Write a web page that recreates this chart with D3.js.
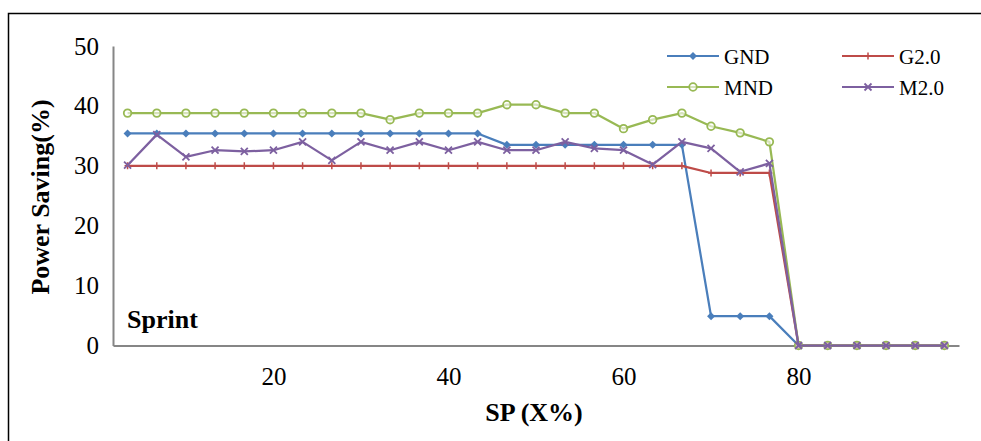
<!DOCTYPE html>
<html>
<head>
<meta charset="utf-8">
<script src="https://cdn.jsdelivr.net/npm/d3@7"></script>
<style>
  body { margin: 0; background: #fff; }
  svg { display: block; }
</style>
</head>
<body>
<svg width="981" height="441"></svg>
<script>
// SP (X%) values along the x axis
const spValues = [3.33, 6.67, 10, 13.33, 16.67, 20, 23.33, 26.67, 30, 33.33,
    36.67, 40, 43.33, 46.67, 50, 53.33, 56.67, 60, 63.33, 66.67,
    70, 73.33, 76.67, 80, 83.33, 86.67, 90, 93.33, 96.67];

// power saving (%) per series
const gnd = [35.4, 35.4, 35.4, 35.4, 35.4, 35.4, 35.4, 35.4, 35.4, 35.4,
    35.4, 35.4, 35.4, 33.5, 33.5, 33.5, 33.5, 33.5, 33.5, 33.5,
    4.9, 4.9, 4.9, 0, 0, 0, 0, 0, 0];
const g20 = [30, 30, 30, 30, 30, 30, 30, 30, 30, 30,
    30, 30, 30, 30, 30, 30, 30, 30, 30, 30,
    28.8, 28.8, 28.8, 0, 0, 0, 0, 0, 0];
const mnd = [38.8, 38.8, 38.8, 38.8, 38.8, 38.8, 38.8, 38.8, 38.8, 37.7,
    38.8, 38.8, 38.8, 40.2, 40.2, 38.8, 38.8, 36.2, 37.7, 38.8,
    36.6, 35.5, 34.0, 0, 0, 0, 0, 0, 0];
const m20 = [30.1, 35.2, 31.5, 32.6, 32.4, 32.6, 34.0, 30.9, 34.0, 32.6,
    34.0, 32.6, 34.0, 32.6, 32.6, 34.0, 32.9, 32.6, 30.2, 34.0,
    32.9, 29.0, 30.4, 0, 0, 0, 0, 0, 0];

const seriesNames = ["GND", "G2.0", "MND", "M2.0"];
const seriesColors = ["#4a7ebb", "#be4b48", "#98b954", "#7d60a0"];
const seriesMarkers = ["diamond", "plus", "circle", "cross"];
const xTicks = [20, 40, 60, 80];
const yTicks = [0, 10, 20, 30, 40, 50];

const serif = "'Liberation Serif', 'Times New Roman', serif";

const svg = d3.select("svg");

// outer frame
svg.append("rect")
    .attr("x", 8.5).attr("y", 13.5)
    .attr("width", 990).attr("height", 450)
    .attr("fill", "none")
    .attr("stroke", "#000")
    .attr("stroke-width", 1.5);

const x = d3.scaleLinear().domain([5 / 3, 295 / 3]).range([113, 959]);
const y = d3.scaleLinear().domain([0, 50]).range([345.5, 46]);

// axes
const xAxis = svg.append("g")
    .attr("transform", `translate(0,${y(0)})`)
    .call(d3.axisBottom(x).tickValues(xTicks).tickSize(0).tickPadding(22).tickFormat(d3.format("d")));
const yAxis = svg.append("g")
    .attr("transform", `translate(${x.range()[0]},0)`)
    .call(d3.axisLeft(y).tickValues(yTicks).tickSize(0).tickPadding(14));

[xAxis, yAxis].forEach(a => {
    a.select(".domain").attr("stroke", "#868686").attr("stroke-width", 2);
    a.selectAll("text")
        .style("font-family", serif)
        .style("font-size", "25px")
        .attr("fill", "#000");
});

// axis titles
svg.append("text")
    .attr("transform", "translate(49,197) rotate(-90)")
    .attr("text-anchor", "middle")
    .style("font-family", serif).style("font-size", "26px").style("font-weight", "bold")
    .text("Power Saving(%)");
svg.append("text")
    .attr("x", 534).attr("y", 421)
    .attr("text-anchor", "middle")
    .style("font-family", serif).style("font-size", "26px").style("font-weight", "bold")
    .text("SP (X%)");
svg.append("text")
    .attr("x", 127).attr("y", 328)
    .style("font-family", serif).style("font-size", "26px").style("font-weight", "bold")
    .text("Sprint");

function drawMarker(g, type, color, cx, cy) {
    if (type === "diamond") {
        g.append("path")
            .attr("d", `M${cx},${cy - 4}L${cx + 4},${cy}L${cx},${cy + 4}L${cx - 4},${cy}Z`)
            .attr("fill", color);
    } else if (type === "plus") {
        g.append("path")
            .attr("d", `M${cx - 3},${cy}H${cx + 3}M${cx},${cy - 3.5}V${cy + 3.5}`)
            .attr("stroke", color).attr("stroke-width", 1.5);
    } else if (type === "circle") {
        g.append("circle")
            .attr("cx", cx).attr("cy", cy).attr("r", 3.8)
            .attr("fill", "#fff").attr("fill-opacity", 0.6)
            .attr("stroke", color).attr("stroke-width", 1.8);
    } else {
        g.append("path")
            .attr("d", `M${cx - 3.5},${cy - 3.5}L${cx + 3.5},${cy + 3.5}M${cx - 3.5},${cy + 3.5}L${cx + 3.5},${cy - 3.5}`)
            .attr("stroke", color).attr("stroke-width", 1.8);
    }
}

const allSeries = [gnd, g20, mnd, m20];
const line = d3.line()
    .x((d, i) => x(spValues[i]))
    .y(d => y(d));

allSeries.forEach((vals, s) => {
    const g = svg.append("g");
    g.append("path")
        .datum(vals)
        .attr("fill", "none")
        .attr("stroke", seriesColors[s])
        .attr("stroke-width", 2.25)
        .attr("stroke-linejoin", "round")
        .attr("d", line);
    vals.forEach((v, i) => drawMarker(g, seriesMarkers[s], seriesColors[s], x(spValues[i]), y(v)));
});

// legend
const legendPos = [[667, 56], [842, 56], [667, 87], [842, 87]];
seriesNames.forEach((name, s) => {
    const [lx, ly] = legendPos[s];
    const g = svg.append("g");
    g.append("line")
        .attr("x1", lx).attr("x2", lx + 52)
        .attr("y1", ly).attr("y2", ly)
        .attr("stroke", seriesColors[s]).attr("stroke-width", 2);
    drawMarker(g, seriesMarkers[s], seriesColors[s], lx + 26, ly);
    g.append("text")
        .attr("x", lx + 57).attr("y", ly + 7.5)
        .style("font-family", serif).style("font-size", "21px")
        .text(name);
});
</script>
</body>
</html>
